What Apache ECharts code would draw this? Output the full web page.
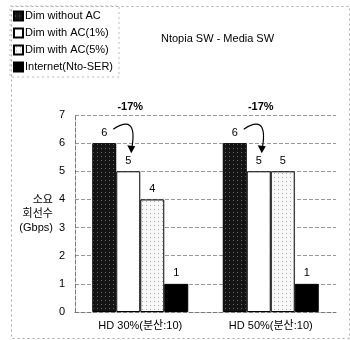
<!DOCTYPE html>
<html>
<head>
<meta charset="utf-8">
<script src="https://cdn.jsdelivr.net/npm/echarts@6/dist/echarts.min.js"></script>
<style>
  html, body { margin: 0; padding: 0; background: #fff; }
  #chart { width: 350px; height: 340px; }
</style>
</head>
<body>
<div id="chart"></div>
<script>
var categories = ['HD 30%(분산:10)', 'HD 50%(분산:10)'];
var seriesNames = ['Dim without AC', 'Dim with AC(1%)', 'Dim with AC(5%)', 'Internet(Nto-SER)'];
var dimNoAc = [6, 6];
var dimAc1 = [5, 5];
var dimAc5 = [4, 5];
var internet = [1, 1];
var reductionLabels = ['-17%', '-17%'];

var FONT = '"Liberation Sans", "Noto Sans CJK KR", sans-serif';
var BAR_W = 24;

// small dotted textures like the scanned print
function pattern(bg, dot, pts) {
    var c = document.createElement('canvas');
    c.width = 4; c.height = 4;
    var ctx = c.getContext('2d');
    ctx.fillStyle = bg;
    ctx.fillRect(0, 0, 4, 4);
    ctx.fillStyle = dot;
    pts.forEach(function (p) { ctx.fillRect(p[0], p[1], 1, 1); });
    return { image: c, repeat: 'repeat' };
}
var darkFill = pattern('#141414', '#6a6a6a', [[1, 0]]);
var lightFill = pattern('#f8f8f8', '#a8a8a8', [[2, 1]]);

var chart = echarts.init(document.getElementById('chart'));

function barSeries(name, data, fill) {
    return {
        name: name,
        type: 'bar',
        data: data,
        barWidth: BAR_W,
        barGap: '0%',
        itemStyle: { color: fill, borderColor: '#000', borderWidth: 1 },
        label: {
            show: true,
            position: 'top',
            distance: 5,
            color: '#000',
            fontSize: 11,
            fontFamily: FONT
        }
    };
}

var option = {
    animation: false,
    title: {
        text: 'Ntopia SW - Media SW',
        left: 156,
        top: 28,
        textStyle: { fontSize: 11, fontWeight: 'normal', color: '#000', fontFamily: FONT }
    },
    legend: {
        orient: 'vertical',
        left: 10,
        top: 6,
        padding: [4, 6, 4, 3],
        itemWidth: 9,
        itemHeight: 9,
        itemGap: 5,
        borderColor: '#bbb',
        borderWidth: 1,
        borderType: [2, 3],
        icon: 'rect',
        textStyle: { fontSize: 11, color: '#000', fontFamily: FONT, lineHeight: 12, padding: [0, 0, 0, -3] },
        data: seriesNames
    },
    grid: { left: 75, right: 14, top: 115, bottom: 28 },
    xAxis: {
        type: 'category',
        data: categories,
        axisTick: { show: false },
        axisLine: { lineStyle: { color: '#777', type: 'dashed' } },
        axisLabel: { color: '#000', fontSize: 11, fontFamily: FONT, margin: 8 }
    },
    yAxis: {
        type: 'value',
        min: 0,
        max: 7,
        interval: 1,
        name: '소요\n회선수\n(Gbps)',
        nameLocation: 'middle',
        nameRotate: 0,
        nameGap: 19,
        nameTextStyle: { color: '#000', fontSize: 11, fontFamily: FONT, lineHeight: 14, padding: [6, 0, 0, 0] },
        axisLine: { show: true, lineStyle: { color: '#777', type: 'dashed' } },
        axisTick: { show: false },
        axisLabel: { color: '#000', fontSize: 11, fontFamily: FONT, margin: 10 },
        splitLine: { lineStyle: { color: '#999', type: 'dashed' } }
    },
    series: [
        barSeries(seriesNames[0], dimNoAc, darkFill),
        barSeries(seriesNames[1], dimAc1, '#fff'),
        barSeries(seriesNames[2], dimAc5, lightFill),
        barSeries(seriesNames[3], internet, '#000')
    ]
};
chart.setOption(option);

// annotations: "-17%" and curved arrow from first bar to second bar
var graphics = [{
    type: 'rect',
    left: 9, top: 4,
    shape: { width: 338, height: 332 },
    style: { fill: 'none', stroke: '#aaa', lineWidth: 1, lineDash: [2, 3] },
    silent: true
}];
categories.forEach(function (cat, i) {
    var c = chart.convertToPixel({ gridIndex: 0 }, [i, 0]);
    var x0 = c[0] - 1.5 * BAR_W;
    var x1 = c[0] - 0.5 * BAR_W;
    var yFrom = chart.convertToPixel({ gridIndex: 0 }, [i, dimNoAc[i]])[1];
    var yTo = chart.convertToPixel({ gridIndex: 0 }, [i, dimAc1[i]])[1];
    var yTop = chart.convertToPixel({ gridIndex: 0 }, [i, 7.3])[1];
    graphics.push({
        type: 'text',
        x: x1 + 2, y: yTop,
        style: {
            text: reductionLabels[i], fill: '#000', fontSize: 11, fontWeight: 'bold',
            fontFamily: FONT, align: 'center', verticalAlign: 'middle'
        }
    });
    var sx = x0 + 9, sy = yFrom - 14;
    var ex = x1 + 3, ey = yTo - 20;
    graphics.push({
        type: 'bezierCurve',
        shape: { x1: sx, y1: sy, cpx1: sx + 14, cpy1: sy - 9, cpx2: ex + 6, cpy2: sy - 8, x2: ex, y2: ey },
        style: { stroke: '#000', lineWidth: 1.2, fill: 'none' }
    });
    graphics.push({
        type: 'polygon',
        shape: { points: [[ex - 4, ey - 6], [ex + 4, ey - 5], [ex, ey + 2]] },
        style: { fill: '#000' }
    });
});
chart.setOption({ graphic: graphics });
</script>
</body>
</html>
